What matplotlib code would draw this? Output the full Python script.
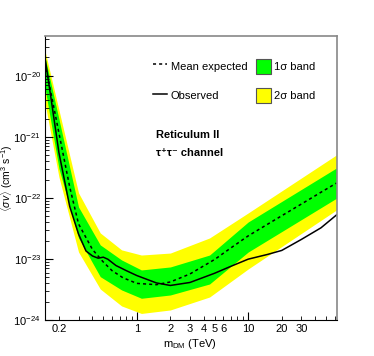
import numpy as np
import matplotlib
matplotlib.use('Agg')
import matplotlib.pyplot as plt
from matplotlib.lines import Line2D
from matplotlib.patches import Patch
from matplotlib.ticker import LogLocator, NullFormatter

plt.rcParams['font.family'] = ['Liberation Sans', 'DejaVu Sans']
plt.rcParams['mathtext.fontset'] = 'custom'
plt.rcParams['mathtext.rm'] = 'Liberation Sans'
plt.rcParams['mathtext.it'] = 'Liberation Sans:italic'
plt.rcParams['mathtext.bf'] = 'Liberation Sans:bold'

# containment bands (TeV, cm^3 s^-1)
mass_band = [0.15, 0.2, 0.3, 0.47, 0.73, 1.1, 2.0, 4.5, 10, 62]
sig2_up = [2.57e-20, 2.77e-21, 1.21e-22, 2.67e-23, 1.41e-23, 1.16e-23, 1.25e-23, 2.21e-23, 5.68e-23, 5.07e-22]
sig1_up = [2.05e-20, 1.97e-21, 7.11e-23, 1.70e-23, 9.64e-24, 6.61e-24, 7.40e-24, 1.16e-23, 4.04e-23, 3.10e-22]
sig1_lo = [6.35e-21, 3.05e-22, 2.21e-23, 5.13e-24, 3.11e-24, 2.27e-24, 2.57e-24, 3.89e-24, 1.30e-23, 9.89e-23]
sig2_lo = [3.60e-21, 2.21e-22, 1.30e-23, 3.22e-24, 1.70e-24, 1.28e-24, 1.46e-24, 2.38e-24, 6.86e-24, 6.35e-23]

# mean expected limit
mass_exp = [0.15, 0.2, 0.25, 0.3, 0.4, 0.5, 0.6, 0.75, 1.0, 1.5, 2, 3, 5, 7, 10, 15, 20, 30, 45, 62]
sv_exp = [1.63e-20, 1.16e-21, 1.51e-22, 3.75e-23, 1.43e-23, 8.93e-24, 6.43e-24, 4.93e-24, 3.98e-24, 3.79e-24,
          4.20e-24, 5.68e-24, 9.82e-24, 1.52e-23, 2.39e-23, 3.73e-23, 5.11e-23, 7.94e-23, 1.24e-22, 1.75e-22]

# observed limit
mass_obs = [0.15, 0.17, 0.2, 0.25, 0.3, 0.35, 0.4, 0.45, 0.5, 0.55, 0.65, 0.8, 1.0, 1.5, 2, 3, 5, 7, 10,
            15, 20, 30, 45, 62]
sv_obs = [1.97e-20, 4.25e-21, 5.53e-22, 7.23e-23, 2.56e-23, 1.35e-23, 1.12e-23, 1.03e-23, 1.07e-23, 9.9e-24,
          7.81e-24, 6.47e-24, 5.35e-24, 4.05e-24, 3.68e-24, 4.12e-24, 5.84e-24, 7.59e-24, 9.93e-24,
          1.19e-23, 1.38e-23, 2.09e-23, 3.24e-23, 5.26e-23]

xmajor = [1, 10]
xminor = [0.2, 0.3, 0.4, 0.5, 0.6, 0.7, 0.8, 0.9, 2, 3, 4, 5, 6, 7, 8, 9, 20, 30, 40, 50, 60]
xminor_labels = ['0.2', '', '', '', '', '', '', '', '2', '3', '4', '5', '6', '', '', '', '20', '30', '', '', '']
yticks = [1e-24, 1e-23, 1e-22, 1e-21, 1e-20]
ylabels = [r'$10^{-24}$', r'$10^{-23}$', r'$10^{-22}$', r'$10^{-21}$', r'$10^{-20}$']

fig = plt.figure(figsize=(3.74, 3.56), dpi=100)
ax = fig.add_axes([45 / 374, 1 - 320 / 356, 291.5 / 374, 284 / 356])

ax.fill_between(mass_band, sig2_lo, sig2_up, color='#ffff00', lw=0)
ax.fill_between(mass_band, sig1_lo, sig1_up, color='#00ff00', lw=0)
ax.plot(mass_exp, sv_exp, color='black', lw=1.1, ls=(0, (2, 2)))
ax.plot(mass_obs, sv_obs, color='black', lw=1.1)

ax.set_xscale('log')
ax.set_yscale('log')
ax.set_xlim(0.15, 62)
ax.set_ylim(1e-24, 4.5e-20)

ax.set_xticks(xmajor, labels=['1', '10'])
ax.set_xticks(xminor, labels=xminor_labels, minor=True)
ax.set_yticks(yticks, labels=ylabels)
ax.yaxis.set_minor_locator(LogLocator(base=10, subs=np.arange(2, 10), numticks=30))
ax.yaxis.set_minor_formatter(NullFormatter())
ax.tick_params(which='both', direction='in', top=False, right=False, labelsize=8, pad=3)
ax.tick_params(which='major', length=6)
ax.tick_params(which='minor', length=3)

for s in ['top', 'right']:
    ax.spines[s].set_color('#888888')
    ax.spines[s].set_linewidth(1.2)

handles = [Line2D([], [], color='black', lw=1.1, ls=(0, (2, 2))),
           Line2D([], [], color='black', lw=1.1),
           Patch(facecolor='#00ff00', edgecolor='#555555', lw=0.8),
           Patch(facecolor='#ffff00', edgecolor='#555555', lw=0.8)]
labels = ['Mean expected', 'Observed', '1σ band', '2σ band']
ax.legend(handles, labels, ncol=2, loc='upper left', bbox_to_anchor=(153 / 374, 1 - 59 / 356),
          bbox_transform=fig.transFigure, frameon=False, fontsize=8, handlelength=1.3, handleheight=1.65,
          handletextpad=0.3, columnspacing=0.8, labelspacing=1.3, borderpad=0, borderaxespad=0)

fig.text(155.7 / 374, 1 - 135 / 356, 'Reticulum II', fontsize=8, weight='bold', va='center')
fig.text(155.7 / 374, 1 - 153.3 / 356, 'τ⁺τ⁻ channel', fontsize=8, weight='bold', va='center')

fig.text(7 / 374, 1 - 178 / 356, r'$\langle\sigma v\rangle$ (cm$^{3}$ s$^{-1}$)', rotation=90,
         ha='center', va='center', fontsize=7.5)
fig.text(190.5 / 374, 1 - 344 / 356, r'm$_{\mathrm{DM}}$ (TeV)', ha='center', va='center', fontsize=8)

fig.savefig('out.png', dpi=100)
